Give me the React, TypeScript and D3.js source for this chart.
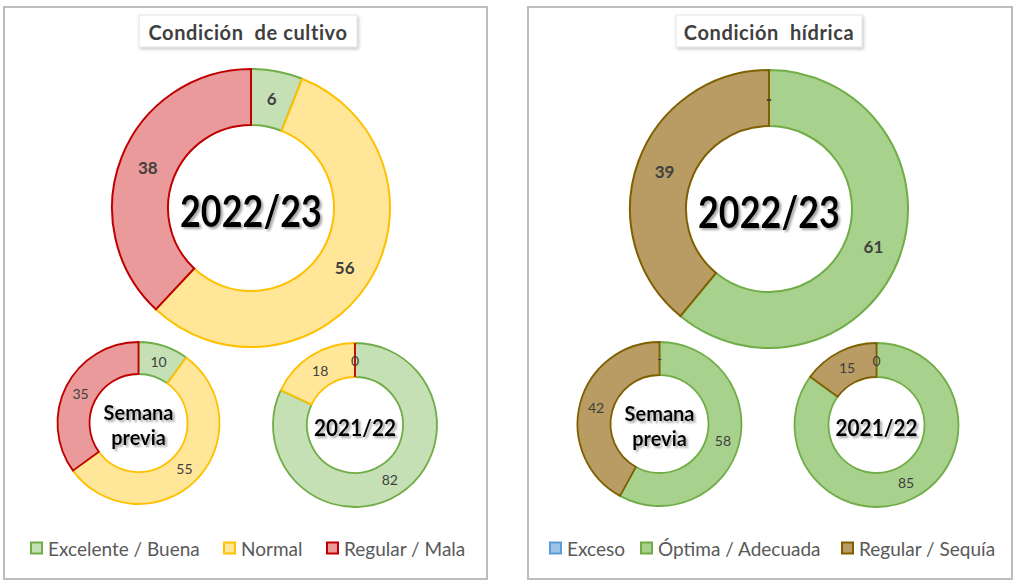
import React from "react";
import * as d3 from "d3";

const cropCategories = ["Excelente / Buena", "Normal", "Regular / Mala"];
const cropFill = ["#c5e0b4", "#ffe699", "#ea9a9a"];
const cropStroke = ["#70ad47", "#ffc000", "#c00000"];
const cropActual = [6, 56, 38];
const cropPrev = [10, 55, 35];
const cropLastYear = [82, 18, 0];

const waterCategories = ["Exceso", "Óptima / Adecuada", "Regular / Sequía"];
const waterFill = ["#9dc3e6", "#a9d18e", "#b89c63"];
const waterStroke = ["#5b9bd5", "#70ad47", "#7f6000"];
const waterActual = [0, 61, 39];
const waterPrev = [0, 58, 42];
const waterLastYear = [0, 85, 15];

const titles = ["Condición  de cultivo", "Condición  hídrica"];
const centerLabels = ["2022/23", "Semana previa", "2021/22"];

const FONT = "Lato, 'Open Sans', sans-serif";

type DonutProps = {
  cx: number;
  cy: number;
  outer: number;
  inner: number;
  values: number[];
  fills: string[];
  strokes: string[];
  big: boolean;
  center: string;
  zeroLabel: string;
};

function Donut({ cx, cy, outer, inner, values, fills, strokes, big, center, zeroLabel }: DonutProps) {
  const pie = d3
    .pie<number>()
    .sort(null)
    .value((d) => d)
    .startAngle(0)
    .endAngle(2 * Math.PI);
  const arcs = pie(values);
  const arc = d3.arc<d3.PieArcDatum<number>>().innerRadius(inner).outerRadius(outer);
  const labelArc = d3
    .arc<d3.PieArcDatum<number>>()
    .innerRadius((inner + outer) / 2)
    .outerRadius((inner + outer) / 2);
  const centerLines = center.split(" ");
  return (
    <g transform={`translate(${cx},${cy})`}>
      {arcs.map((a, i) => (
        <path key={i} d={arc(a) || ""} fill={fills[i]} stroke={strokes[i]} strokeWidth={big ? 2 : 1.8} />
      ))}
      {arcs.map((a, i) => {
        const [x, y] = labelArc.centroid(a);
        const txt = a.data === 0 ? zeroLabel : String(a.data);
        return (
          <text
            key={"l" + i}
            x={x}
            y={y}
            textAnchor="middle"
            dominantBaseline="central"
            fontFamily={FONT}
            fontWeight={big ? 700 : 400}
            fontSize={big ? 17 : 14}
            fill="#404040"
          >
            {txt}
          </text>
        );
      })}
      {centerLines.length === 1 ? (
        <text
          x={0}
          y={2}
          textAnchor="middle"
          dominantBaseline="central"
          fontFamily={FONT}
          fontWeight={700}
          fontSize={big ? 43 : 22}
          fill="#000"
          filter="url(#shadow)"
          textLength={big ? 142 : 82}
          lengthAdjust="spacingAndGlyphs"
        >
          {center}
        </text>
      ) : (
        centerLines.map((s, k) => (
          <text
            key={k}
            x={0}
            y={(k - 0.5) * 25 + 1}
            textAnchor="middle"
            dominantBaseline="central"
            fontFamily={FONT}
            fontWeight={700}
            fontSize={20}
            fill="#000"
            filter="url(#shadow)"
          >
            {s}
          </text>
        ))
      )}
    </g>
  );
}

function Legend({ x0, y, items, fills, strokes, xs }: { x0: number; y: number; items: string[]; fills: string[]; strokes: string[]; xs: number[] }) {
  return (
    <g>
      {items.map((it, i) => (
        <g key={i} transform={`translate(${x0 + xs[i]},${y})`}>
          <rect x={0} y={-5.5} width={11} height={11} fill={fills[i]} stroke={strokes[i]} strokeWidth={2} />
          <text x={17} y={0} dominantBaseline="central" fontFamily={FONT} fontSize={19} fill="#595959">
            {it}
          </text>
        </g>
      ))}
    </g>
  );
}

function Title({ cx, y, text, w }: { cx: number; y: number; text: string; w: number }) {
  return (
    <g>
      <rect x={cx - w / 2} y={y} width={w} height={32} fill="#fff" stroke="#e6e6e6" strokeWidth={1} filter="url(#boxshadow)" />
      <text
        x={cx}
        y={y + 17}
        textAnchor="middle"
        dominantBaseline="central"
        fontFamily={FONT}
        fontWeight={700}
        fontSize={20}
        letterSpacing={0.6}
        fill="#404040"
        style={{ whiteSpace: "pre" }}
      >
        {text}
      </text>
    </g>
  );
}

export default function App() {
  return (
    <svg width={1024} height={585} style={{ position: "absolute", left: 0, top: 0, background: "#fff" }}>
      <defs>
        <filter id="shadow" x="-20%" y="-40%" width="140%" height="180%">
          <feDropShadow dx={2} dy={2} stdDeviation={1.2} floodColor="#808080" floodOpacity={0.7} />
        </filter>
        <filter id="boxshadow" x="-10%" y="-30%" width="120%" height="160%">
          <feDropShadow dx={1.5} dy={2} stdDeviation={1.5} floodColor="#999" floodOpacity={0.5} />
        </filter>
      </defs>
      <rect x={4} y={7} width={483} height={572} fill="#fff" stroke="#bdbdbd" strokeWidth={2} />
      <rect x={528} y={7} width={484} height={572} fill="#fff" stroke="#bdbdbd" strokeWidth={2} />

      <Title cx={248} y={15} text={titles[0]} w={218} />
      <Title cx={769} y={15} text={titles[1]} w={186} />

      <Donut cx={251} cy={208} outer={139} inner={83} values={cropActual} fills={cropFill} strokes={cropStroke} big center={centerLabels[0]} zeroLabel="0" />
      <Donut cx={138.5} cy={423} outer={81} inner={49} values={cropPrev} fills={cropFill} strokes={cropStroke} big={false} center={centerLabels[1]} zeroLabel="0" />
      <Donut cx={355} cy={425} outer={82} inner={48} values={cropLastYear} fills={cropFill} strokes={cropStroke} big={false} center={centerLabels[2]} zeroLabel="0" />

      <Donut cx={769} cy={209} outer={139} inner={83} values={waterActual} fills={waterFill} strokes={waterStroke} big center={centerLabels[0]} zeroLabel="-" />
      <Donut cx={659.5} cy={424} outer={82} inner={49} values={waterPrev} fills={waterFill} strokes={waterStroke} big={false} center={centerLabels[1]} zeroLabel="-" />
      <Donut cx={876.5} cy={425} outer={82} inner={48} values={waterLastYear} fills={waterFill} strokes={waterStroke} big={false} center={centerLabels[2]} zeroLabel="0" />

      <Legend x0={31} y={548} items={cropCategories} fills={cropFill} strokes={cropStroke} xs={[0, 193, 296]} />
      <Legend x0={550} y={548} items={waterCategories} fills={waterFill} strokes={waterStroke} xs={[0, 91, 292]} />
    </svg>
  );
}
